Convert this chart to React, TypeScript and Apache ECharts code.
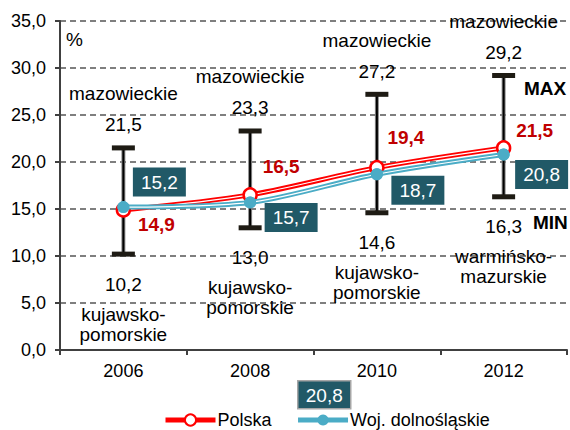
import React, { useEffect, useRef } from 'react';
import * as echarts from 'echarts';

const years = ['2006', '2008', '2010', '2012'];
const polska = [14.9, 16.5, 19.4, 21.5];
const dolnoslaskie = [15.2, 15.7, 18.7, 20.8];
const maxValues = [21.5, 23.3, 27.2, 29.2];
const minValues = [10.2, 13.0, 14.6, 16.3];
const maxRegions = ['mazowieckie', 'mazowieckie', 'mazowieckie', 'mazowieckie'];
const minRegions = ['kujawsko-\npomorskie', 'kujawsko-\npomorskie', 'kujawsko-\npomorskie', 'warmińsko-\nmazurskie'];
const strayLabel = '20,8';

const FONT = '"Liberation Sans", Arial, sans-serif';
const fmt = (v: number) => v.toFixed(1).replace('.', ',');

export default function App() {
  const ref = useRef<HTMLDivElement>(null);
  useEffect(() => {
    if (!ref.current) return;
    const chart = echarts.init(ref.current, null, { renderer: 'svg' });
    const redOffsets = [[33, 15], [31, -28], [29, -30], [31, -17]];
    const blueOffsets = [[36, -25], [41, 15], [41, 16], [38, 20]];
    const txt = (text: string, x: number, y: number, extra: any = {}) => ({
      type: 'text', x, y,
      style: { text, fill: '#000', font: `19px ${FONT}`, align: 'center', verticalAlign: 'middle', ...extra },
    });
    const option: any = {
      animation: false,
      backgroundColor: '#fff',
      textStyle: { fontFamily: FONT },
      grid: { left: 60, right: 3, top: 21, bottom: 80, containLabel: false },
      legend: {
        data: ['Polska', 'Woj. dolnośląskie'],
        left: 163, top: 411, padding: 0,
        itemWidth: 50, itemHeight: 14, itemGap: 24,
        lineStyle: { width: 5 },
        textStyle: { fontSize: 18, lineHeight: 18, color: '#000', fontFamily: FONT, padding: [0, 0, 0, -3] },
      },
      xAxis: {
        type: 'category',
        data: years,
        axisLine: { lineStyle: { color: '#404040', width: 2 } },
        axisTick: { show: true, length: 5, lineStyle: { color: '#404040', width: 2 } },
        axisLabel: { fontSize: 18, color: '#000', margin: 12, fontFamily: FONT },
      },
      yAxis: {
        type: 'value', min: 0, max: 35, interval: 5,
        axisLine: { show: true, lineStyle: { color: '#404040', width: 2 } },
        axisTick: { show: true, length: 5, lineStyle: { color: '#404040', width: 2 } },
        axisLabel: { fontSize: 18, color: '#000', margin: 14, fontFamily: FONT, formatter: (v: number) => fmt(v) },
        splitLine: { lineStyle: { color: '#555', width: 1.5, type: [6, 4] } },
      },
      series: [
        {
          type: 'custom',
          name: 'range',
          clip: false,
          z: 1,
          data: years.map((_, i) => [i, minValues[i], maxValues[i]]),
          renderItem: (params: any, api: any) => {
            const i = params.dataIndex;
            const top = api.coord([api.value(0), api.value(2)]);
            const bot = api.coord([api.value(0), api.value(1)]);
            const x = top[0];
            return {
              type: 'group',
              children: [
                { type: 'line', shape: { x1: x, y1: top[1], x2: x, y2: bot[1] }, style: { stroke: '#888', lineWidth: 4 } },
                { type: 'line', shape: { x1: x, y1: top[1], x2: x, y2: bot[1] }, style: { stroke: '#000', lineWidth: 2 } },
                { type: 'rect', shape: { x: x - 11.5, y: top[1] - 2.5, width: 23, height: 5 }, style: { fill: '#1e1b14' } },
                { type: 'rect', shape: { x: x - 11.5, y: bot[1] - 2.5, width: 23, height: 5 }, style: { fill: '#1e1b14' } },
                txt(fmt(maxValues[i]), x, top[1] - 23),
                txt(maxRegions[i], x, top[1] - 54),
                txt(fmt(minValues[i]), x, bot[1] + 30),
                txt(minRegions[i], x, bot[1] + 70, { lineHeight: 20 }),
              ],
            };
          },
        },
        {
          type: 'line', name: 'Polska', z: 2,
          data: polska.map((v, i) => ({
            value: v,
            label: { offset: redOffsets[i] },
          })),
          smooth: 0.3,
          symbol: 'circle', symbolSize: 13,
          lineStyle: { color: '#ff0000', width: 5 },
          itemStyle: { color: '#ffffff', borderColor: '#ff0000', borderWidth: 2.5 },
          label: {
            show: true, position: 'inside', align: 'center', verticalAlign: 'middle',
            formatter: (p: any) => fmt(p.value),
            color: '#c00000', fontWeight: 'bold', fontSize: 19, fontFamily: FONT,
          },
        },
        {
          type: 'line', name: 'polska-inner', z: 2, silent: true,
          data: polska, smooth: 0.3, showSymbol: false,
          lineStyle: { color: '#ffffff', width: 1.2 },
        },
        {
          type: 'line', name: 'Woj. dolnośląskie', z: 3,
          data: dolnoslaskie, smooth: 0.3,
          symbol: 'circle', symbolSize: 12,
          lineStyle: { color: '#4bacc6', width: 5 },
          itemStyle: { color: '#4bacc6' },
        },
        {
          type: 'line', name: 'dolno-inner', z: 3, silent: true,
          data: dolnoslaskie, smooth: 0.3, showSymbol: false,
          lineStyle: { color: '#ffffff', width: 1.2 },
        },
        {
          type: 'line', name: 'dolno-points', z: 4,
          data: dolnoslaskie.map((v, i) => ({ value: v, label: { offset: blueOffsets[i] } })),
          symbol: 'circle', symbolSize: 12,
          lineStyle: { width: 0, opacity: 0 },
          itemStyle: { color: '#4bacc6' },
          label: {
            show: true, position: 'inside', align: 'center', verticalAlign: 'middle',
            formatter: (p: any) => fmt(p.value),
            color: '#fff', fontSize: 19, fontFamily: FONT,
            backgroundColor: '#215967', padding: [5, 8, 4, 8], lineHeight: 20,
          },
        },
      ],
      graphic: [
        { type: 'text', left: 66, top: 30, style: { text: '%', font: `19px ${FONT}`, fill: '#000' } },
        { type: 'text', left: 524, top: 79, style: { text: 'MAX', font: `bold 19px ${FONT}`, fill: '#000' } },
        { type: 'text', left: 533, top: 213, style: { text: 'MIN', font: `bold 19px ${FONT}`, fill: '#000' } },
        {
          type: 'group', left: 297, top: 380,
          children: [
            { type: 'rect', shape: { x: 0, y: 0, width: 53, height: 28 }, style: { fill: '#215967', stroke: '#a6a6a6', lineWidth: 1.5 } },
            { type: 'text', x: 26.5, y: 14.5, style: { text: strayLabel, font: `19px ${FONT}`, fill: '#fff', align: 'center', verticalAlign: 'middle' } },
          ],
        },
      ],
    };
    chart.setOption(option);
    return () => chart.dispose();
  }, []);
  return <div ref={ref} style={{ position: 'absolute', left: 0, top: 0, width: 570, height: 430 }} />;
}
